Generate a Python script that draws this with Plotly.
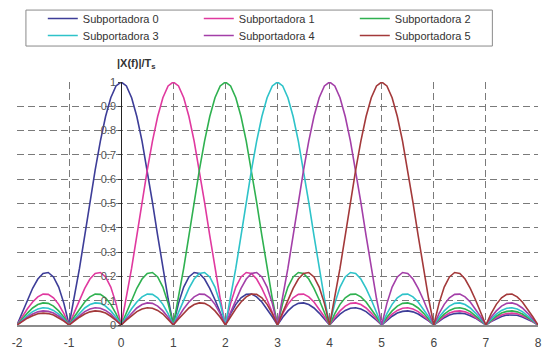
import numpy as np
import plotly.graph_objects as go

# sample grid (frequency, normalized), step 0.1 from -2 to 8
freq = np.round(np.arange(-20, 81) / 10, 1)

names = ["Subportadora 0", "Subportadora 1", "Subportadora 2",
         "Subportadora 3", "Subportadora 4", "Subportadora 5"]
colors = ["#3d3d98", "#e0399f", "#2fb150", "#2ec3c9", "#a33fa8", "#a3393a"]

# values, one line per unit interval [-2,-1], [-1,0], ... [7,8]
sub0 = [0, 0.052, 0.104, 0.151, 0.189, 0.212, 0.216, 0.198, 0.156, 0.089,
        0, 0.109, 0.234, 0.368, 0.505, 0.637, 0.757, 0.858, 0.935, 0.984,
        1.000, 0.984, 0.935, 0.858, 0.757, 0.637, 0.505, 0.368, 0.234, 0.109,
        0, 0.089, 0.156, 0.198, 0.216, 0.212, 0.189, 0.151, 0.104, 0.052,
        0, 0.047, 0.085, 0.112, 0.126, 0.127, 0.116, 0.095, 0.067, 0.034,
        0, 0.032, 0.058, 0.078, 0.089, 0.091, 0.084, 0.070, 0.049, 0.025,
        0, 0.024, 0.045, 0.060, 0.069, 0.071, 0.066, 0.055, 0.039, 0.020,
        0, 0.019, 0.036, 0.049, 0.056, 0.058, 0.054, 0.045, 0.032, 0.017,
        0, 0.016, 0.030, 0.041, 0.047, 0.049, 0.046, 0.038, 0.028, 0.014,
        0, 0.014, 0.026, 0.035, 0.041, 0.042, 0.040, 0.033, 0.024, 0.013,
        0]
sub1 = [0, 0.034, 0.067, 0.095, 0.116, 0.127, 0.126, 0.112, 0.085, 0.047,
        0, 0.052, 0.104, 0.151, 0.189, 0.212, 0.216, 0.198, 0.156, 0.089,
        0, 0.109, 0.234, 0.368, 0.505, 0.637, 0.757, 0.858, 0.935, 0.984,
        1.000, 0.984, 0.935, 0.858, 0.757, 0.637, 0.505, 0.368, 0.234, 0.109,
        0, 0.089, 0.156, 0.198, 0.216, 0.212, 0.189, 0.151, 0.104, 0.052,
        0, 0.047, 0.085, 0.112, 0.126, 0.127, 0.116, 0.095, 0.067, 0.034,
        0, 0.032, 0.058, 0.078, 0.089, 0.091, 0.084, 0.070, 0.049, 0.025,
        0, 0.024, 0.045, 0.060, 0.069, 0.071, 0.066, 0.055, 0.039, 0.020,
        0, 0.019, 0.036, 0.049, 0.056, 0.058, 0.054, 0.045, 0.032, 0.017,
        0, 0.016, 0.030, 0.041, 0.047, 0.049, 0.046, 0.038, 0.028, 0.014,
        0]
sub2 = [0, 0.025, 0.049, 0.070, 0.084, 0.091, 0.089, 0.078, 0.058, 0.032,
        0, 0.034, 0.067, 0.095, 0.116, 0.127, 0.126, 0.112, 0.085, 0.047,
        0, 0.052, 0.104, 0.151, 0.189, 0.212, 0.216, 0.198, 0.156, 0.089,
        0, 0.109, 0.234, 0.368, 0.505, 0.637, 0.757, 0.858, 0.935, 0.984,
        1.000, 0.984, 0.935, 0.858, 0.757, 0.637, 0.505, 0.368, 0.234, 0.109,
        0, 0.089, 0.156, 0.198, 0.216, 0.212, 0.189, 0.151, 0.104, 0.052,
        0, 0.047, 0.085, 0.112, 0.126, 0.127, 0.116, 0.095, 0.067, 0.034,
        0, 0.032, 0.058, 0.078, 0.089, 0.091, 0.084, 0.070, 0.049, 0.025,
        0, 0.024, 0.045, 0.060, 0.069, 0.071, 0.066, 0.055, 0.039, 0.020,
        0, 0.019, 0.036, 0.049, 0.056, 0.058, 0.054, 0.045, 0.032, 0.017,
        0]
sub3 = [0, 0.020, 0.039, 0.055, 0.066, 0.071, 0.069, 0.060, 0.045, 0.024,
        0, 0.025, 0.049, 0.070, 0.084, 0.091, 0.089, 0.078, 0.058, 0.032,
        0, 0.034, 0.067, 0.095, 0.116, 0.127, 0.126, 0.112, 0.085, 0.047,
        0, 0.052, 0.104, 0.151, 0.189, 0.212, 0.216, 0.198, 0.156, 0.089,
        0, 0.109, 0.234, 0.368, 0.505, 0.637, 0.757, 0.858, 0.935, 0.984,
        1.000, 0.984, 0.935, 0.858, 0.757, 0.637, 0.505, 0.368, 0.234, 0.109,
        0, 0.089, 0.156, 0.198, 0.216, 0.212, 0.189, 0.151, 0.104, 0.052,
        0, 0.047, 0.085, 0.112, 0.126, 0.127, 0.116, 0.095, 0.067, 0.034,
        0, 0.032, 0.058, 0.078, 0.089, 0.091, 0.084, 0.070, 0.049, 0.025,
        0, 0.024, 0.045, 0.060, 0.069, 0.071, 0.066, 0.055, 0.039, 0.020,
        0]
sub4 = [0, 0.017, 0.032, 0.045, 0.054, 0.058, 0.056, 0.049, 0.036, 0.019,
        0, 0.020, 0.039, 0.055, 0.066, 0.071, 0.069, 0.060, 0.045, 0.024,
        0, 0.025, 0.049, 0.070, 0.084, 0.091, 0.089, 0.078, 0.058, 0.032,
        0, 0.034, 0.067, 0.095, 0.116, 0.127, 0.126, 0.112, 0.085, 0.047,
        0, 0.052, 0.104, 0.151, 0.189, 0.212, 0.216, 0.198, 0.156, 0.089,
        0, 0.109, 0.234, 0.368, 0.505, 0.637, 0.757, 0.858, 0.935, 0.984,
        1.000, 0.984, 0.935, 0.858, 0.757, 0.637, 0.505, 0.368, 0.234, 0.109,
        0, 0.089, 0.156, 0.198, 0.216, 0.212, 0.189, 0.151, 0.104, 0.052,
        0, 0.047, 0.085, 0.112, 0.126, 0.127, 0.116, 0.095, 0.067, 0.034,
        0, 0.032, 0.058, 0.078, 0.089, 0.091, 0.084, 0.070, 0.049, 0.025,
        0]
sub5 = [0, 0.014, 0.028, 0.038, 0.046, 0.049, 0.047, 0.041, 0.030, 0.016,
        0, 0.017, 0.032, 0.045, 0.054, 0.058, 0.056, 0.049, 0.036, 0.019,
        0, 0.020, 0.039, 0.055, 0.066, 0.071, 0.069, 0.060, 0.045, 0.024,
        0, 0.025, 0.049, 0.070, 0.084, 0.091, 0.089, 0.078, 0.058, 0.032,
        0, 0.034, 0.067, 0.095, 0.116, 0.127, 0.126, 0.112, 0.085, 0.047,
        0, 0.052, 0.104, 0.151, 0.189, 0.212, 0.216, 0.198, 0.156, 0.089,
        0, 0.109, 0.234, 0.368, 0.505, 0.637, 0.757, 0.858, 0.935, 0.984,
        1.000, 0.984, 0.935, 0.858, 0.757, 0.637, 0.505, 0.368, 0.234, 0.109,
        0, 0.089, 0.156, 0.198, 0.216, 0.212, 0.189, 0.151, 0.104, 0.052,
        0, 0.047, 0.085, 0.112, 0.126, 0.127, 0.116, 0.095, 0.067, 0.034,
        0]
series = [sub0, sub1, sub2, sub3, sub4, sub5]

x_ticks = [-2, -1, 0, 1, 2, 3, 4, 5, 6, 7, 8]
x_tick_text = ["-2", "-1", "0", "1", "2", "3", "4", "5", "6", "7", "8"]
y_ticks = [0, 0.1, 0.2, 0.3, 0.4, 0.5, 0.6, 0.7, 0.8, 0.9, 1]
y_tick_text = ["0", "0.1", "0.2", "0.3", "0.4", "0.5", "0.6", "0.7", "0.8", "0.9", "1"]

FONT = "Liberation Sans, Arial, sans-serif"
GRID_DASH = "7px,4px"

fig = go.Figure()
for i, (name, col, vals) in enumerate(zip(names, colors, series)):
    fig.add_trace(go.Scatter(x=freq, y=vals, mode="lines", name=name,
                             legend="legend" if i < 3 else "legend2",
                             line=dict(color=col, width=1.6)))

leg_common = dict(orientation="h", xanchor="left", yanchor="top",
                  borderwidth=0, bgcolor="rgba(0,0,0,0)",
                  entrywidth=111, entrywidthmode="pixels",
                  font=dict(family=FONT, size=11, color="#333333"),
                  itemwidth=30)

fig.update_layout(
    width=546, height=354,
    margin=dict(l=17, r=4, t=82, b=29),
    paper_bgcolor="white", plot_bgcolor="white",
    font=dict(family=FONT, size=11, color="#444444"),
    showlegend=True,
    legend=dict(x=0.0495, y=1.321, **leg_common),
    legend2=dict(x=0.0495, y=1.251, **leg_common),
    xaxis=dict(range=[-2, 8], tickvals=x_ticks, ticktext=x_tick_text, showgrid=True,
               gridcolor="#7a7a7a", griddash=GRID_DASH, gridwidth=1.2,
               showline=True, linecolor="#8c8c8c", linewidth=1.5,
               zeroline=False, ticks="", ticklabelstandoff=6,
               tickfont=dict(size=12, color="#444444"),
               fixedrange=True),
    yaxis=dict(range=[0, 1], tickvals=y_ticks, ticktext=y_tick_text,
               showgrid=True, gridcolor="#7a7a7a", griddash=GRID_DASH, gridwidth=1.2,
               anchor="free", position=0.2, showline=True, linecolor="#222222",
               linewidth=1, zeroline=False, ticks="outside", ticklen=3,
               tickcolor="#444444", tickfont=dict(size=11, color="#555555"),
               fixedrange=True),
)

# legend frame
fig.add_shape(type="rect", xref="paper", yref="paper",
              x0=0.01714, x1=0.9124, y0=1.148, y1=1.296,
              line=dict(color="#8a8a8a", width=1), fillcolor="rgba(0,0,0,0)")

fig.add_annotation(text="<b>|X(f)|/T<sub>s</sub></b>", xref="x", yref="paper",
                   x=0, y=1.074, xanchor="left", yanchor="middle", xshift=-6,
                   showarrow=False,
                   font=dict(family=FONT, size=11, color="#333333"))

fig.write_html("out.html")
